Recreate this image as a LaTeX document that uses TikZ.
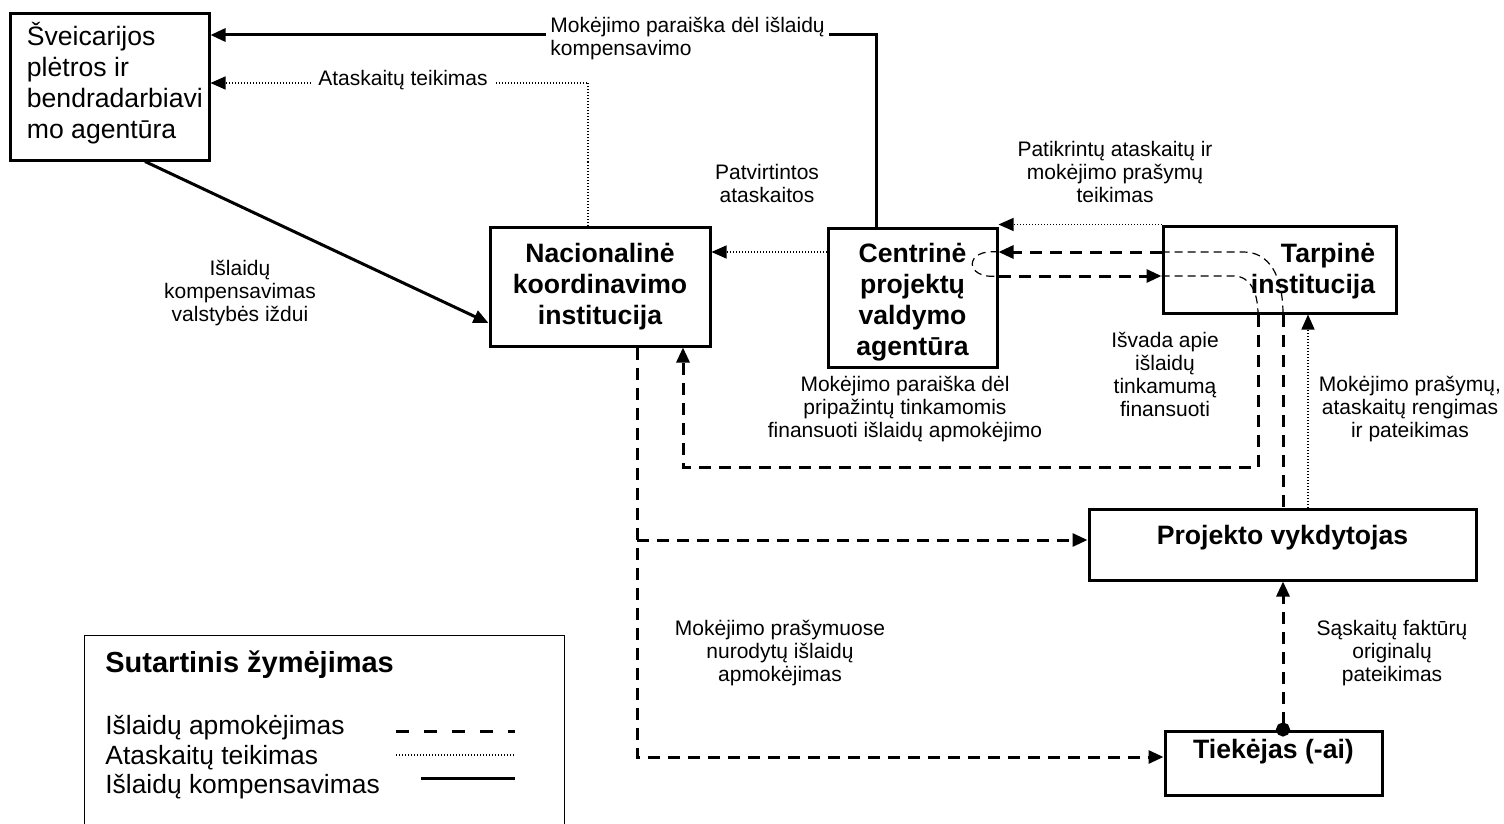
\documentclass[tikz,border=0pt]{standalone}
\usepackage{fontspec}
\setmainfont{Liberation Sans}
\usetikzlibrary{arrows.meta}

\begin{document}
\begin{tikzpicture}[x=0.5pt,y=-0.5pt,
    box/.style={draw,line width=1.5pt,inner sep=0pt,align=center,
      font=\fontsize{13.3}{15.5}\selectfont\bfseries},
    boxtext/.style={inner sep=0pt,font=\fontsize{13.3}{15.5}\selectfont\bfseries},
    lbl/.style={inner sep=0pt,align=center,font=\fontsize{10.5}{11.5}\selectfont},
    legtext/.style={anchor=base west,inner sep=0pt,font=\fontsize{13.2}{14}\selectfont},
    arrowtip/.style={-{Triangle[length=7.5pt,width=6.5pt]}},
    pay/.style={line width=1.5pt,dash pattern=on 6pt off 4pt},
    rep/.style={line width=0.6pt,dash pattern=on 0.5pt off 1pt},
    comp/.style={line width=1.5pt},
    loopline/.style={line width=0.6pt,dash pattern=on 4pt off 2.5pt}]
\useasboundingbox (0,0) rectangle (1504,824);

% institutions
\node[box,minimum width=99.5pt,minimum height=73pt] (sdc) at (109.5,87) {};
\node[anchor=west,align=left,inner sep=0pt,font=\fontsize{13.3}{15.5}\selectfont]
    (sdctext) at ([xshift=9pt,yshift=1.75pt]sdc.west)
    {Šveicarijos\\plėtros ir\\bendradarbiavi\\mo agentūra};
\node[box,minimum width=110pt,minimum height=59.5pt] (nki) at (600,286.5)
    {Nacionalinė\\koordinavimo\\institucija};
\node[box,minimum width=84.5pt,minimum height=69.5pt] (cpva) at (912.5,297.5) {};
\node[boxtext,align=center] (cpvatext) at (912.5,302)
    {Centrinė\\projektų\\valdymo\\agentūra};
\node[box,minimum width=116.5pt,minimum height=43.5pt] (tarp) at (1279.5,269.5) {};
\node[boxtext,align=right] (tarptext) at (1313,271) {Tarpinė\\institucija};
\node[box,minimum width=193.5pt,minimum height=35.5pt,text depth=9.3pt] (pv) at (1282.5,544.5)
    {Projekto vykdytojas};
\node[box,minimum width=108.5pt,minimum height=32pt,text depth=13.8pt] (tiek) at (1273.5,763)
    {Tiekėjas (-ai)};

% rows and columns of the connectors
\coordinate (ytop) at (0,35);
\coordinate (yrep) at (0,83);
\coordinate (yhi) at (0,252);
\coordinate (ylo) at (0,276);
\coordinate (xcomp) at (876,0);
\coordinate (xrep) at (588,0);
\coordinate (xa) at (1283,0);
\coordinate (xb) at (1258,0);
\coordinate (xc) at (1308,0);
\coordinate (xk) at (637,0);
\coordinate (bend) at (683,467);
\coordinate (pvin) at ([yshift=2.25pt]pv.west);
\coordinate (tiekin) at ([yshift=3pt]tiek.west);

% compensation request
\draw[comp,arrowtip] (cpva.north -| xcomp) -- (xcomp |- ytop) -- (sdc.east |- ytop);
\node[lbl,align=left,fill=white,inner xsep=2pt,anchor=west] (lcomp) at (546,39)
    {Mokėjimo paraiška dėl išlaidų\\kompensavimo};

% reports to the agency
\draw[rep,arrowtip] (nki.north -| xrep) -- (xrep |- yrep) -- (sdc.east |- yrep);
\node[lbl,fill=white,inner xsep=3pt] (lrep) at (403,80) {Ataskaitų teikimas};

% treasury
\draw[comp,arrowtip] ([xshift=17.75pt]sdc.south) -- ([yshift=-18.25pt]nki.west);
\node[lbl] (ldiag) at (240,293) {Išlaidų\\kompensavimas\\valstybės iždui};

% approved reports
\draw[rep,arrowtip] (cpva.west |- yhi) -- (nki.east |- yhi);
\node[lbl] (lpatv) at (767,183) {Patvirtintos\\ataskaitos};

% checked reports
\draw[rep,arrowtip] (tarp.north west) -- (cpva.east |- tarp.north);
\node[lbl] (lpatik) at (1115,172) {Patikrintų ataskaitų ir\\mokėjimo prašymų\\teikimas};

% payments between cpva and tarp
\draw[pay,arrowtip] (tarp.west |- yhi) -- (cpva.east |- yhi);
\draw[pay,arrowtip] (cpva.east |- ylo) -- (tarp.west |- ylo);
\draw[loopline] (cpva.east |- yhi) .. controls +(-35,-4) and +(-35,4) .. (cpva.east |- ylo);
\draw[loopline] (tarp.west |- yhi) -- ++(82,0) .. controls +(25,0) and +(0,-40) .. (tarp.south -| xa);
\draw[loopline] (tarp.west |- ylo) -- ++(72,0) .. controls +(18,0) and +(0,-20) .. (tarp.south -| xb);

% tarp and project
\draw[pay] (tarp.south -| xa) -- (pv.north -| xa);
\draw[rep,arrowtip] (pv.north -| xc) -- (tarp.south -| xc);
\node[lbl] (lmokpr) at (1410,409) {Mokėjimo prašymų,\\ataskaitų rengimas\\ir pateikimas};

% payment request to nki
\draw[pay,arrowtip] (tarp.south -| xb) |- (bend) -- (nki.south -| bend);
\node[lbl] (lisvada) at (1165,374) {Išvada apie\\išlaidų\\tinkamumą\\finansuoti};
\node[lbl] (lmokpar) at (905,409)
    {Mokėjimo paraiška dėl\\pripažintų tinkamomis\\finansuoti išlaidų apmokėjimo};

% payments from nki
\draw[pay,arrowtip] (nki.south -| xk) |- (tiekin);
\draw[pay,arrowtip] (xk |- pvin) -- (pvin);
\node[lbl] (lmoknur) at (780,653) {Mokėjimo prašymuose\\nurodytų išlaidų\\apmokėjimas};

% invoices
\draw[pay,{Circle[length=7pt]}-{Triangle[length=7.5pt,width=6.5pt]},shorten <=-3.5pt]
    (tiek.north -| xa) -- (pv.south -| xa);
\node[lbl] (lsask) at (1392,653) {Sąskaitų faktūrų\\originalų\\pateikimas};

% legend
\node[draw,line width=0.6pt,inner sep=0pt,minimum width=240pt,minimum height=110pt,
    anchor=north west] (legend) at (84,635) {};
\node[anchor=base west,inner sep=0pt,font=\fontsize{14.5}{16}\selectfont\bfseries]
    (legtitle) at (105,672) {Sutartinis žymėjimas};
\node[legtext] (legpay) at (105,734) {Išlaidų apmokėjimas};
\node[legtext] (legrep) at (105,764) {Ataskaitų teikimas};
\node[legtext] (legcomp) at (105,793) {Išlaidų kompensavimas};
\draw[pay,dash pattern=on 6.5pt off 7.5pt] (396,731) -- (515,731);
\draw[rep] (396,755) -- (515,755);
\draw[comp] (421,778) -- (515,778);
\end{tikzpicture}
\end{document}
